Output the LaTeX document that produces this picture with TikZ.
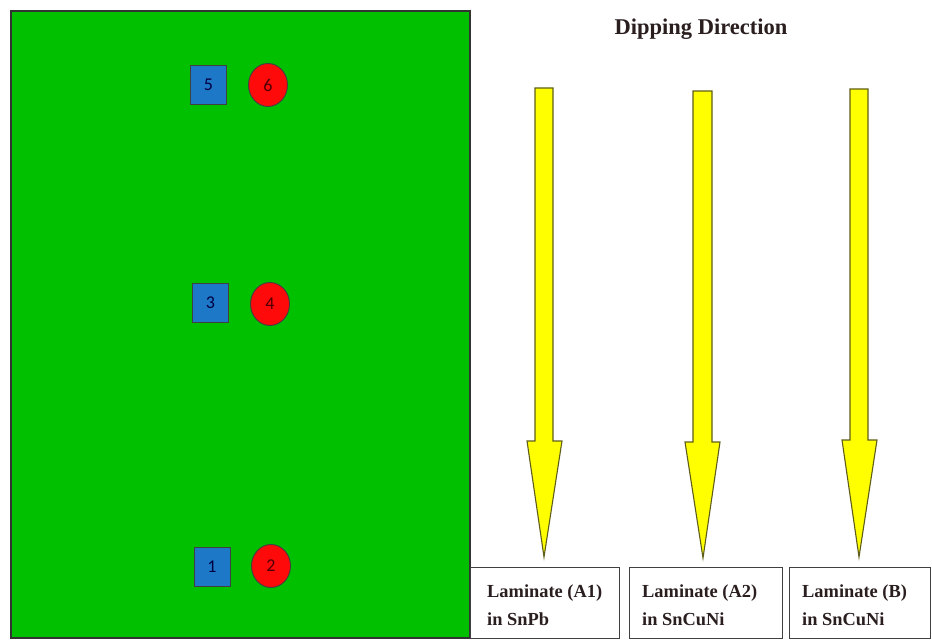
\documentclass[tikz,border=0pt]{standalone}
\usepackage{fontspec}
\setmainfont{Liberation Serif}
\newfontfamily\numfont{Carlito}
\definecolor{boardgreen}{HTML}{00C000}
\definecolor{padblue}{HTML}{1E78C8}
\definecolor{padred}{HTML}{FF0A0A}
\definecolor{arrowyellow}{HTML}{FFFF00}
\definecolor{arrowedge}{HTML}{5E5E1A}
\definecolor{txtdark}{HTML}{2A1E1E}
\begin{document}
\begin{tikzpicture}[x=1pt,y=-1pt,
  board/.style={draw=black!80, line width=1.2pt, fill=boardgreen},
  pad/.style={draw=black!75, line width=0.9pt, fill=padblue, minimum width=36pt, minimum height=39pt, inner sep=0pt, font=\numfont\fontsize{18}{18}\selectfont, text=blue!25!black},
  dot/.style={draw=black!75, line width=0.9pt, fill=padred, ellipse, minimum width=39pt, minimum height=43pt, inner sep=0pt, font=\numfont\fontsize{18}{18}\selectfont, text=red!30!black},
  yarrow/.style={draw=arrowedge, line width=1.1pt, fill=arrowyellow, line join=miter},
  labbox/.style={draw=black!75, line width=0.9pt, fill=white, minimum height=71pt, inner sep=0pt},
  labtext/.style={font=\bfseries\fontsize{18.4}{28}\selectfont, text=txtdark, align=left, inner sep=0pt, anchor=base west},
  titletext/.style={font=\bfseries\fontsize{22.5}{24}\selectfont, text=txtdark, inner sep=0pt, anchor=base}
]
\usetikzlibrary{shapes.geometric}
\useasboundingbox (0,0) rectangle (932,642);
\fill[white] (0,0) rectangle (932,642);
% board
\draw[board] (11,11) rectangle (470,638);
% pads
\node[pad] (p5) at (208.5,85) {5};
\node[dot] (p6) at (268,85) {6};
\node[pad] (p3) at (210.5,302.5) {3};
\node[dot] (p4) at (270,304) {4};
\node[pad] (p1) at (212,567) {1};
\node[dot] (p2) at (271,566) {2};
% title
\node[titletext] (title) at (701,35) {Dipping Direction};
% arrows
\draw[yarrow] (535,88) -- (553,88) -- (553,441) -- (562,441) -- (544,557) -- (527,441) -- (535,441) -- cycle;
\draw[yarrow] (693,91) -- (712,91) -- (712,442) -- (720,442) -- (703,558) -- (685,442) -- (693,442) -- cycle;
\draw[yarrow] (850,89) -- (868,89) -- (868,440) -- (877,440) -- (859,557) -- (842,440) -- (850,440) -- cycle;
% label boxes
\node[labbox, minimum width=149pt] (b1) at (544.5,602.5) {};
\node[labbox, minimum width=153pt] (b2) at (705.5,602.5) {};
\node[labbox, minimum width=141pt] (b3) at (859.5,602.5) {};
\node[labtext] (t1) at (487,625) {Laminate (A1)\\in SnPb};
\node[labtext] (t2) at (642,625) {Laminate (A2)\\in SnCuNi};
\node[labtext] (t3) at (802,625) {Laminate (B)\\in SnCuNi};
\end{tikzpicture}
\end{document}
